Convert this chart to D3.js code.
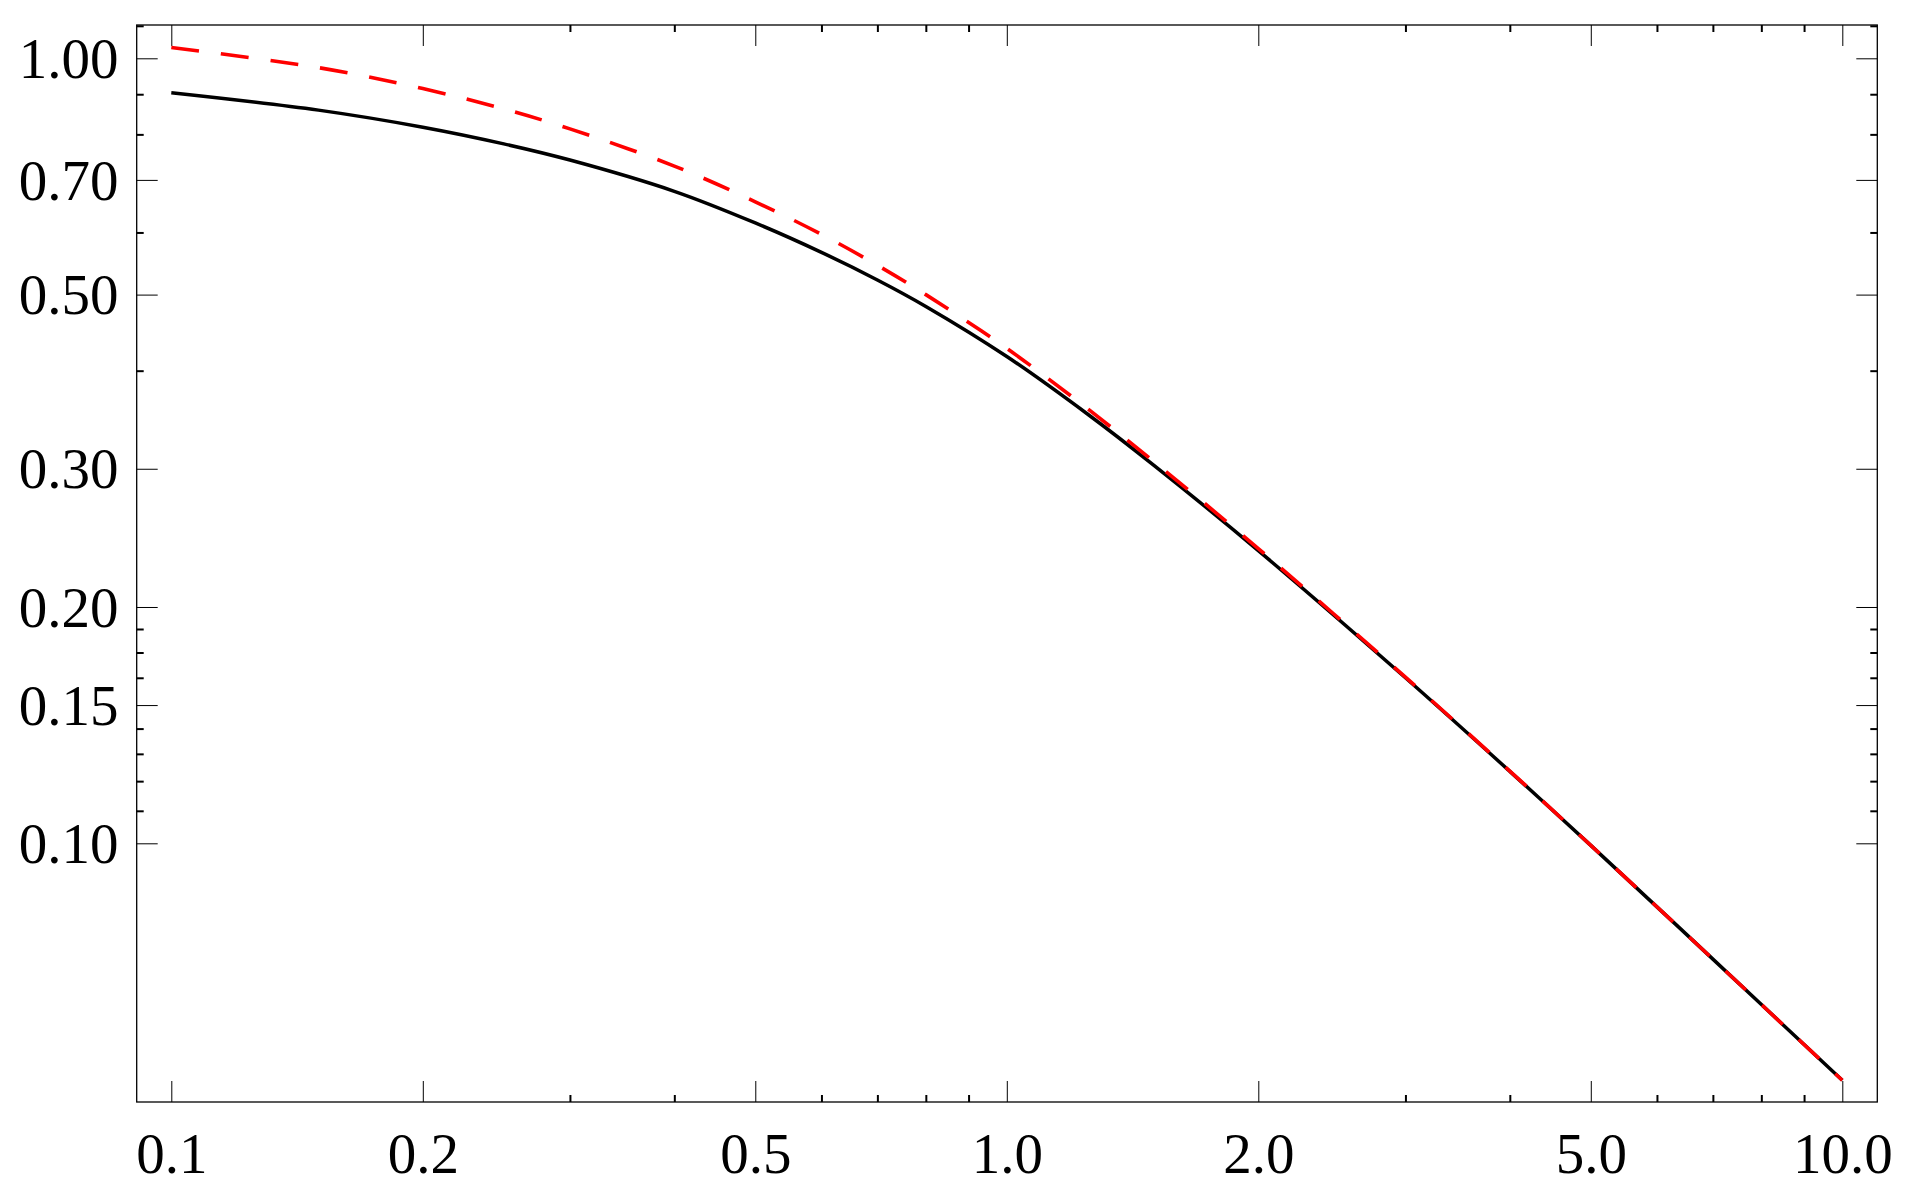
<!DOCTYPE html>
<html>
<head>
<meta charset="utf-8">
<script src="https://cdn.jsdelivr.net/npm/d3@7"></script>
<style>
  body { margin: 0; background: #fff; }
  svg { display: block; }
  text { font-family: "Liberation Serif", "Times New Roman", serif; }
</style>
</head>
<body>
<svg id="chart" width="1914" height="1199"></svg>
<script>
// ---- data ----
const xValues      = [0.1, 0.15, 0.2, 0.25, 0.3, 0.4, 0.5, 0.6, 0.7, 0.8, 1.0, 1.25, 1.5, 2, 3, 4, 5, 7, 10];
const solidValues  = [0.904, 0.859, 0.817, 0.778, 0.742, 0.677, 0.617, 0.566, 0.522, 0.483, 0.417, 0.352, 0.303, 0.236, 0.1625, 0.1235, 0.0994, 0.0712, 0.0499];
const dashedValues = [1.032, 0.973, 0.915, 0.862, 0.813, 0.729, 0.6565, 0.5966, 0.545, 0.500, 0.427, 0.3576, 0.3063, 0.2374, 0.1628, 0.1236, 0.0994, 0.0712, 0.0499];

const xMajorTicks = [0.1, 0.2, 0.5, 1, 2, 5, 10];
const xTickLabels = ["0.1", "0.2", "0.5", "1.0", "2.0", "5.0", "10.0"];
const xMinorTicks = [0.3, 0.4, 0.6, 0.7, 0.8, 0.9, 3, 4, 6, 7, 8, 9];

const yMajorTicks = [0.1, 0.15, 0.2, 0.3, 0.5, 0.7, 1.0];
const yTickLabels = ["0.10", "0.15", "0.20", "0.30", "0.50", "0.70", "1.00"];
const yMinorTicks = [0.11, 0.12, 0.13, 0.14, 0.1625, 0.175, 0.1875, 0.4, 0.6, 0.8, 0.9, 1.1];

// ---- layout ----
const frame = { left: 136.7, right: 1877.3, top: 25, bottom: 1102 };
const svg = d3.select("#chart");

const x = d3.scaleLog().domain([0.1, 10]).range([171.3, 1842.3]);
const y = d3.scaleLog().domain([0.1, 1]).range([843.3, 58.3]);

const majorLen = 21, minorLen = 7;
const fontSize = 57;

// frame
svg.append("rect")
  .attr("x", frame.left).attr("y", frame.top)
  .attr("width", frame.right - frame.left).attr("height", frame.bottom - frame.top)
  .attr("fill", "none").attr("stroke", "#000").attr("stroke-width", 1.3);

function styleAxis(g, width) {
  g.select(".domain").remove();
  g.selectAll(".tick line").attr("stroke", "#000").attr("stroke-width", width);
}

// bottom axis (labels)
const gB = svg.append("g").attr("transform", `translate(0,${frame.bottom})`)
  .call(d3.axisBottom(x).tickValues(xMajorTicks).tickSizeInner(-majorLen).tickSizeOuter(0)
        .tickFormat((d, i) => xTickLabels[i]));
styleAxis(gB, 1);
gB.selectAll(".tick text").attr("y", 71).attr("dy", null)
  .attr("font-size", fontSize).attr("fill", "#000")
  .style("font-family", '"Liberation Serif", "Times New Roman", serif');
const gBm = svg.append("g").attr("transform", `translate(0,${frame.bottom})`)
  .call(d3.axisBottom(x).tickValues(xMinorTicks).tickSizeInner(-minorLen).tickSizeOuter(0).tickFormat(""));
styleAxis(gBm, 2);

// top axis (mirror)
const gT = svg.append("g").attr("transform", `translate(0,${frame.top})`)
  .call(d3.axisTop(x).tickValues(xMajorTicks).tickSizeInner(-majorLen).tickSizeOuter(0).tickFormat(""));
styleAxis(gT, 1);
const gTm = svg.append("g").attr("transform", `translate(0,${frame.top})`)
  .call(d3.axisTop(x).tickValues(xMinorTicks).tickSizeInner(-minorLen).tickSizeOuter(0).tickFormat(""));
styleAxis(gTm, 2);

// left axis (labels)
const gL = svg.append("g").attr("transform", `translate(${frame.left},0)`)
  .call(d3.axisLeft(y).tickValues(yMajorTicks).tickSizeInner(-majorLen).tickSizeOuter(0)
        .tickPadding(18.2).tickFormat((d, i) => yTickLabels[i]));
styleAxis(gL, 1);
gL.selectAll(".tick text").attr("x", -18.2).attr("dy", "0.335em")
  .attr("font-size", fontSize).attr("fill", "#000")
  .style("font-family", '"Liberation Serif", "Times New Roman", serif');
const gLm = svg.append("g").attr("transform", `translate(${frame.left},0)`)
  .call(d3.axisLeft(y).tickValues(yMinorTicks).tickSizeInner(-minorLen).tickSizeOuter(0).tickFormat(""));
styleAxis(gLm, 2);

// right axis (mirror)
const gR = svg.append("g").attr("transform", `translate(${frame.right},0)`)
  .call(d3.axisRight(y).tickValues(yMajorTicks).tickSizeInner(-majorLen).tickSizeOuter(0).tickFormat(""));
styleAxis(gR, 1);
const gRm = svg.append("g").attr("transform", `translate(${frame.right},0)`)
  .call(d3.axisRight(y).tickValues(yMinorTicks).tickSizeInner(-minorLen).tickSizeOuter(0).tickFormat(""));
styleAxis(gRm, 2);

// curves
const line = d3.line().x(d => x(d[0])).y(d => y(d[1])).curve(d3.curveCatmullRom.alpha(0.5));
const solidData  = xValues.map((v, i) => [v, solidValues[i]]);
const dashedData = xValues.map((v, i) => [v, dashedValues[i]]);

svg.append("path").datum(solidData).attr("d", line)
  .attr("fill", "none").attr("stroke", "#000").attr("stroke-width", 3.5)
  .attr("stroke-linejoin", "round");

svg.append("path").datum(dashedData).attr("d", line)
  .attr("fill", "none").attr("stroke", "#ff0000").attr("stroke-width", 3.6)
  .attr("stroke-dasharray", "28,22").attr("stroke-linejoin", "round");
</script>
</body>
</html>
